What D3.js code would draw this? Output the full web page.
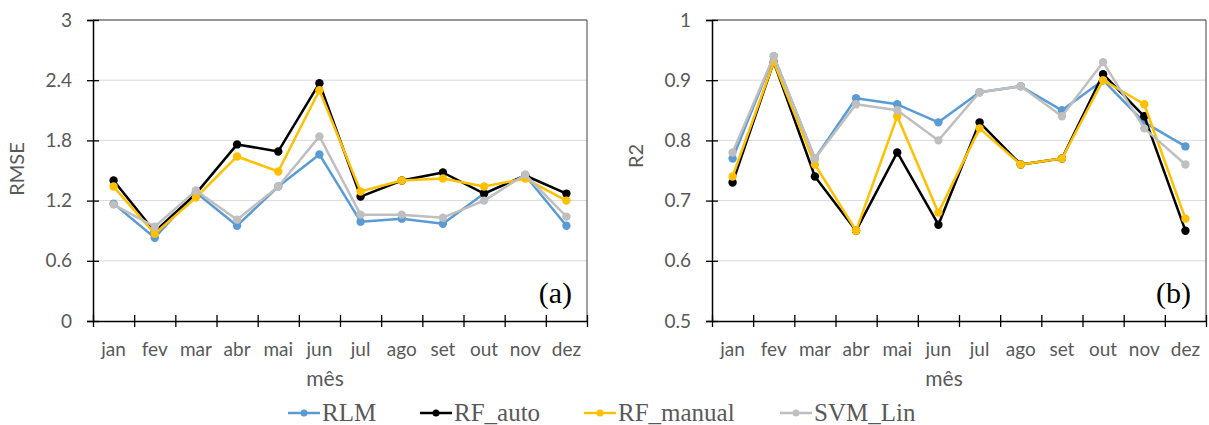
<!DOCTYPE html>
<html>
<head>
<meta charset="utf-8">
<script src="https://cdn.jsdelivr.net/npm/d3@7"></script>
<style>
  html, body { margin: 0; padding: 0; background: #fff; }
  svg { display: block; }
</style>
</head>
<body>
<svg id="chart" width="1209" height="425"></svg>
<script>
// Month categories shared by both panels
const months = ["jan", "fev", "mar", "abr", "mai", "jun", "jul", "ago", "set", "out", "nov", "dez"];

// Model names and colours
const models = ["RLM", "RF_auto", "RF_manual", "SVM_Lin"];
const modelColors = ["#5B9BD5", "#000000", "#FFC000", "#BFBFBF"];

// RMSE per month (panel a)
const rmseRLM      = [1.17, 0.83, 1.28, 0.95, 1.34, 1.66, 0.99, 1.02, 0.97, 1.27, 1.45, 0.95];
const rmseRFauto   = [1.40, 0.89, 1.27, 1.76, 1.69, 2.37, 1.24, 1.40, 1.48, 1.27, 1.45, 1.27];
const rmseRFmanual = [1.34, 0.87, 1.23, 1.64, 1.49, 2.30, 1.29, 1.40, 1.42, 1.34, 1.42, 1.20];
const rmseSVMLin   = [1.16, 0.94, 1.30, 1.01, 1.34, 1.84, 1.06, 1.06, 1.03, 1.20, 1.46, 1.04];

// R2 per month (panel b)
const r2RLM      = [0.77, 0.94, 0.77, 0.87, 0.86, 0.83, 0.88, 0.89, 0.85, 0.90, 0.83, 0.79];
const r2RFauto   = [0.73, 0.93, 0.74, 0.65, 0.78, 0.66, 0.83, 0.76, 0.77, 0.91, 0.84, 0.65];
const r2RFmanual = [0.74, 0.93, 0.76, 0.65, 0.84, 0.68, 0.82, 0.76, 0.77, 0.90, 0.86, 0.67];
const r2SVMLin   = [0.78, 0.94, 0.77, 0.86, 0.85, 0.80, 0.88, 0.89, 0.84, 0.93, 0.82, 0.76];

// Axis ticks
const rmseTicks = [0, 0.6, 1.2, 1.8, 2.4, 3];
const r2Ticks   = [0.5, 0.6, 0.7, 0.8, 0.9, 1];

const svg = d3.select("#chart");
const textColor = "#595959";
const sansFont = "Lato, 'Open Sans', sans-serif";
const serifFont = "'Liberation Serif', 'Times New Roman', serif";

const panels = [
  { left: 93,  right: 587,  yTitle: "RMSE", yTitleX: 17,  yTitleY: 169, tag: "(a)",
    ticks: rmseTicks, fmt: d => String(d), titleX: 325,
    series: [rmseRLM, rmseRFauto, rmseRFmanual, rmseSVMLin] },
  { left: 712, right: 1206, yTitle: "R2",   yTitleX: 636, yTitleY: 156, tag: "(b)",
    ticks: r2Ticks, fmt: d => String(d), titleX: 944,
    series: [r2RLM, r2RFauto, r2RFmanual, r2SVMLin] }
];

const plotTop = 20, plotBottom = 321;

panels.forEach(p => {
  const g = svg.append("g");
  const x = d3.scaleBand().domain(months).range([p.left, p.right]);
  const xEdge = d3.scaleLinear().domain([0, months.length]).range([p.left, p.right]);
  const y = d3.scaleLinear().domain(d3.extent(p.ticks)).range([plotBottom, plotTop]);

  // gridlines
  g.append("g").selectAll("line")
    .data(p.ticks.slice(1))
    .join("line")
    .attr("x1", p.left).attr("x2", p.right)
    .attr("y1", d => y(d)).attr("y2", d => y(d))
    .attr("stroke", "#D9D9D9").attr("stroke-width", 1);

  // plot-area border (top and right)
  g.append("path")
    .attr("d", `M${p.left},${y(p.ticks[p.ticks.length - 1])}H${p.right}V${plotBottom}`)
    .attr("fill", "none").attr("stroke", "#404040").attr("stroke-width", 1);

  // y axis with ticks crossing the axis line
  const yAxis = g.append("g")
    .attr("transform", `translate(${p.left},0)`)
    .call(d3.axisLeft(y).tickValues(p.ticks).tickFormat(p.fmt).tickSize(6).tickPadding(15));
  yAxis.select(".domain").attr("stroke", "#000").attr("stroke-width", 1.5);
  yAxis.selectAll(".tick line").attr("x1", 6).attr("x2", -6).attr("stroke", "#000").attr("stroke-width", 1.3);
  yAxis.selectAll(".tick text")
    .attr("fill", textColor).style("font-family", sansFont).style("font-size", "19px");

  // x axis boundary ticks
  const xAxis = g.append("g")
    .attr("transform", `translate(0,${plotBottom})`)
    .call(d3.axisBottom(xEdge).tickValues(d3.range(months.length + 1)).tickFormat("").tickSize(6).tickSizeOuter(0));
  xAxis.select(".domain").attr("stroke", "#000").attr("stroke-width", 1.5);
  xAxis.selectAll(".tick line").attr("y1", -6).attr("y2", 6).attr("stroke", "#000").attr("stroke-width", 1.3);

  // month labels
  const xLab = g.append("g")
    .attr("transform", `translate(0,${plotBottom})`)
    .call(d3.axisBottom(x).tickSize(0).tickPadding(22));
  xLab.select(".domain").remove();
  xLab.selectAll(".tick text")
    .attr("fill", textColor).style("font-family", sansFont).style("font-size", "19px");

  // series lines + markers (drawn in legend order, SVM_Lin on top)
  const line = d3.line().x((d, i) => x(months[i]) + x.bandwidth() / 2).y(d => y(d));
  p.series.forEach((vals, k) => {
    g.append("path")
      .datum(vals)
      .attr("d", line)
      .attr("fill", "none")
      .attr("stroke", modelColors[k])
      .attr("stroke-width", 2.5)
      .attr("stroke-linejoin", "round");
    g.append("g").selectAll("circle")
      .data(vals)
      .join("circle")
      .attr("cx", (d, i) => x(months[i]) + x.bandwidth() / 2)
      .attr("cy", d => y(d))
      .attr("r", 4.2)
      .attr("fill", modelColors[k]);
  });

  // axis titles
  g.append("text")
    .attr("transform", `translate(${p.yTitleX},${p.yTitleY}) rotate(-90)`)
    .attr("text-anchor", "middle").attr("dy", "0.35em")
    .attr("fill", textColor).style("font-family", sansFont).style("font-size", "20px")
    .text(p.yTitle);
  g.append("text")
    .attr("x", p.titleX).attr("y", 386)
    .attr("text-anchor", "middle")
    .attr("fill", textColor).style("font-family", sansFont).style("font-size", "21px")
    .text("mês");

  // panel tag
  g.append("text")
    .attr("x", p.right - 15).attr("y", 303)
    .attr("text-anchor", "end")
    .attr("fill", "#000").style("font-family", serifFont).style("font-size", "30px")
    .text(p.tag);
});

// legend
const legendX = [288, 420, 584, 780];
const legend = svg.append("g");
models.forEach((m, k) => {
  const lg = legend.append("g").attr("transform", `translate(${legendX[k]},413)`);
  lg.append("line").attr("x1", 0).attr("x2", 32).attr("y1", 0).attr("y2", 0)
    .attr("stroke", modelColors[k]).attr("stroke-width", 2.5);
  lg.append("circle").attr("cx", 16).attr("cy", 0).attr("r", 3.5).attr("fill", modelColors[k]);
  lg.append("text").attr("x", 34).attr("y", 8)
    .attr("fill", textColor).style("font-family", serifFont).style("font-size", "25px")
    .text(m);
});
</script>
</body>
</html>
